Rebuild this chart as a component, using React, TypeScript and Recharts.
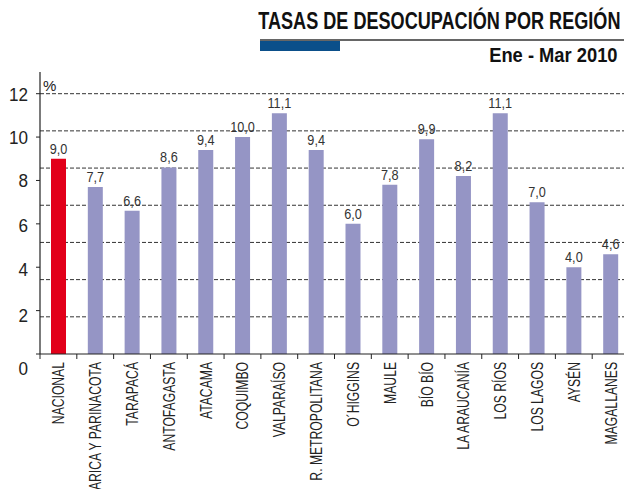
import React from 'react';
import { BarChart, Bar, XAxis, YAxis, CartesianGrid, Cell, LabelList } from 'recharts';

const categories = [
  'NACIONAL', 'ARICA Y PARINACOTA', 'TARAPACÁ', 'ANTOFAGASTA', 'ATACAMA', 'COQUIMBO',
  'VALPARAÍSO', 'R. METROPOLITANA', 'O\u00B4HIGGINS', 'MAULE', 'BÍO BÍO', 'LA ARAUCANÍA',
  'LOS RÍOS', 'LOS LAGOS', 'AYSÉN', 'MAGALLANES',
];
const rates = [9.0, 7.7, 6.6, 8.6, 9.4, 10.0, 11.1, 9.4, 6.0, 7.8, 9.9, 8.2, 11.1, 7.0, 4.0, 4.6];
const yTicks = [0, 2, 4, 6, 8, 10, 12];
const gridValues = [1.714, 3.429, 5.143, 6.857, 8.571, 10.286, 12];

const data = categories.map((name, i) => ({ name, value: rates[i] }));

const FONT = "'Liberation Sans', Arial, sans-serif";
const CHART_W = 629;
const MARGIN_LEFT = 0;
const Y_W = 40;
const BAND = (CHART_W - MARGIN_LEFT - Y_W) / categories.length;

const yOffsets: Record<number, number> = { 0: 14, 2: 5, 4: 2, 6: 1 };

const YTick = (props: any) => {
  const { x, y, payload } = props;
  const off = yOffsets[payload.value] ?? 0;
  return (
    <text
      transform={`translate(${x}, ${y + off}) scale(0.9, 1)`}
      dy="0.36em"
      textAnchor="end"
      fontSize={19}
      fill="#222"
      fontFamily={FONT}
    >
      {payload.value}
    </text>
  );
};

const XTick = (props: any) => {
  const { x, y, payload } = props;
  const lx = x - BAND / 2;
  return (
    <g>
      <line x1={lx} y1={y} x2={lx} y2={y + 5} stroke="#222" strokeWidth={1} />
      <text
        transform={`translate(${x + 6}, ${y + 8}) rotate(-90) scale(0.76, 1)`}
        textAnchor="end"
        fontSize={16}
        fill="#222"
        fontFamily={FONT}
      >
        {payload.value}
      </text>
    </g>
  );
};

const fmt = (v: any) => Number(v).toFixed(1).replace('.', ',');

const BarLabel = (props: any) => {
  const { x, y, width, value } = props;
  const cx = Number(x) + Number(width) / 2;
  return (
    <text
      transform={`translate(${cx}, ${Number(y) - 5}) scale(0.82, 1)`}
      textAnchor="middle"
      fontSize={15.5}
      fill="#333"
      fontFamily={FONT}
    >
      {fmt(value)}
    </text>
  );
};

export default function App() {
  return (
    <div style={{ position: 'fixed', left: 0, top: 0, width: 624, height: 489, overflow: 'hidden', background: '#fff' }}>
      <div style={{ position: 'absolute', right: 4, top: 7, whiteSpace: 'nowrap' }}>
        <div style={{ display: 'inline-block', transform: 'scaleX(0.77)', transformOrigin: 'right center', fontFamily: FONT, fontWeight: 'bold', fontSize: 23.5, color: '#111', lineHeight: '28px' }}>
          TASAS DE DESOCUPACIÓN POR REGIÓN
        </div>
      </div>
      <div style={{ position: 'absolute', left: 260, top: 39, width: 364, height: 2, background: '#666' }} />
      <div style={{ position: 'absolute', left: 260, top: 41, width: 80, height: 10, background: '#0B4F8A' }} />
      <div style={{ position: 'absolute', right: 6, top: 43, whiteSpace: 'nowrap' }}>
        <div style={{ display: 'inline-block', transform: 'scaleX(0.94)', transformOrigin: 'right center', fontFamily: FONT, fontWeight: 'bold', fontSize: 19.5, color: '#111', lineHeight: '24px' }}>
          Ene - Mar 2010
        </div>
      </div>
      <div style={{ position: 'absolute', left: 43, top: 77, fontFamily: FONT, fontSize: 15, color: '#222' }}>%</div>
      <div style={{ position: 'absolute', left: 0, top: 0 }}>
        <BarChart
          width={CHART_W}
          height={489}
          data={data}
          margin={{ top: 72, right: 0, bottom: 0, left: MARGIN_LEFT }}
          barCategoryGap={0}
        >
          <CartesianGrid
            vertical={false}
            horizontalValues={gridValues}
            stroke="#333"
            strokeDasharray="4 2"
          />
          <XAxis
            dataKey="name"
            interval={0}
            height={135}
            tickSize={0}
            tickMargin={0}
            tickLine={false}
            axisLine={{ stroke: '#222', strokeWidth: 1.2 }}
            tick={<XTick />}
          />
          <YAxis
            width={Y_W}
            domain={[0, 13]}
            ticks={yTicks}
            interval={0}
            tickSize={4}
            tickMargin={8}
            axisLine={{ stroke: '#222', strokeWidth: 1.2 }}
            tickLine={{ stroke: '#222' }}
            tick={<YTick />}
          />
          <Bar dataKey="value" barSize={15} isAnimationActive={false}>
            {data.map((d, i) => (
              <Cell key={d.name} fill={i === 0 ? '#E2001A' : '#9595C5'} />
            ))}
            <LabelList dataKey="value" content={<BarLabel />} />
          </Bar>
        </BarChart>
      </div>
    </div>
  );
}
